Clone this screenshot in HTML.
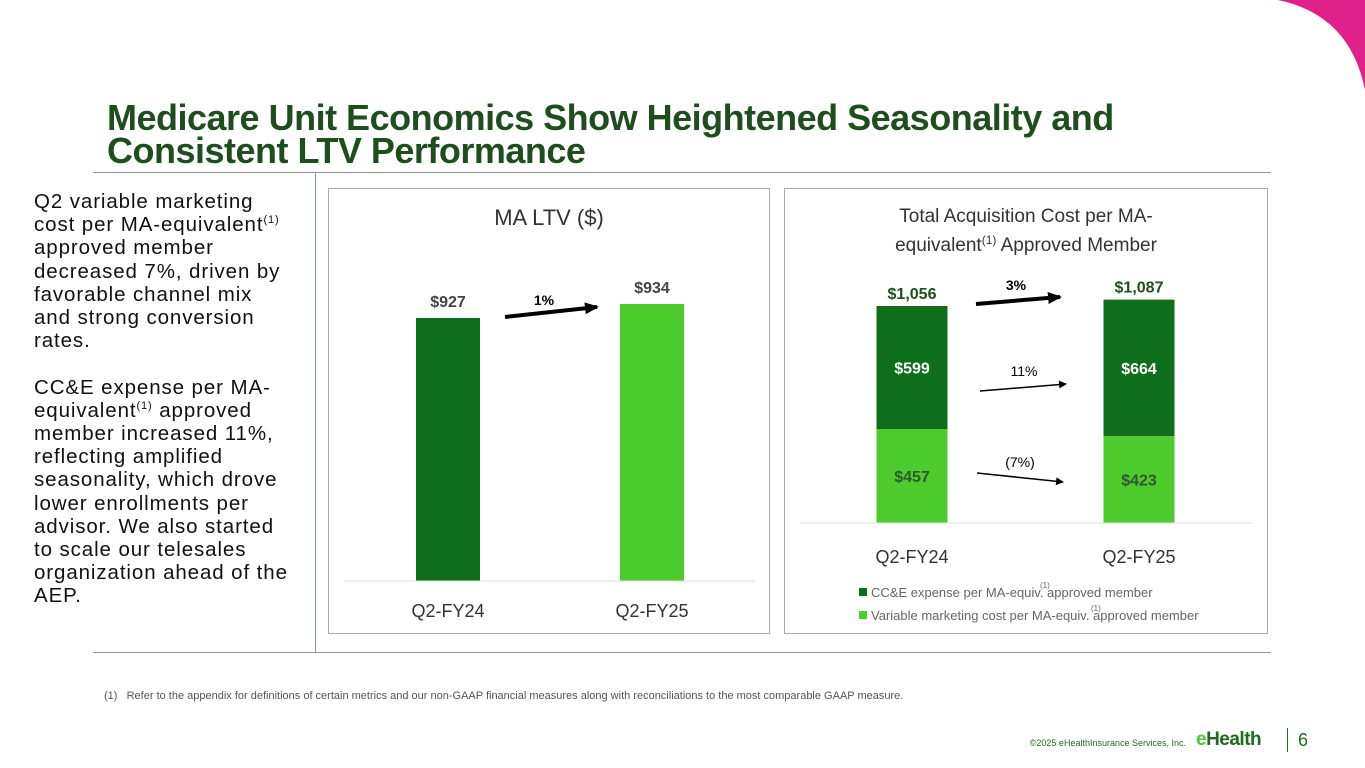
<!DOCTYPE html>
<html><head><meta charset="utf-8"><style>
body{margin:0;width:1365px;height:768px;overflow:hidden;background:#fff;font-family:"Liberation Sans",sans-serif;position:relative}
.abs{position:absolute}
</style></head><body>
<svg class="abs" style="left:0;top:0" width="1365" height="768">
<path d="M1278,0 Q1350,15 1365,90 L1365,0 Z" fill="#e0218a"/>
</svg>
<div class="abs" style="left:107px;top:101px;font-size:36px;font-weight:bold;color:#1e4d1e;line-height:33px;letter-spacing:-0.5px">Medicare Unit Economics Show Heightened Seasonality and<br>Consistent LTV Performance</div>
<div class="abs" style="left:93px;top:172px;width:1178px;height:1px;background:#8a9a8a"></div>
<div class="abs" style="left:93px;top:652px;width:1178px;height:1px;background:#8a9a8a"></div>
<div class="abs" style="left:315px;top:173px;width:1px;height:479px;background:#8a9a8a"></div>
<div class="abs" style="left:34px;top:190px;width:290px;font-size:20.5px;line-height:23.2px;color:#111;letter-spacing:0.9px;white-space:nowrap">Q2 variable marketing<br>cost per MA-equivalent<sup style="font-size:11px;line-height:0">(1)</sup><br>approved member<br>decreased 7%, driven by<br>favorable channel mix<br>and strong conversion<br>rates.<br><br>CC&amp;E expense per MA-<br>equivalent<sup style="font-size:11px;line-height:0">(1)</sup> approved<br>member increased 11%,<br>reflecting amplified<br>seasonality, which drove<br>lower enrollments per<br>advisor. We also started<br>to scale our telesales<br>organization ahead of the<br>AEP.</div>
<div class="abs" style="left:328px;top:188px;width:442px;height:446px;border:1px solid #aaa;box-sizing:border-box"></div>
<div class="abs" style="left:784px;top:188px;width:484px;height:446px;border:1px solid #aaa;box-sizing:border-box"></div>
<svg class="abs" id="ch" style="left:0;top:0" width="1365" height="768">
<defs><marker id="ah" markerWidth="8" markerHeight="8" refX="7" refY="4" orient="auto" markerUnits="userSpaceOnUse"><path d="M0,0 L8,4 L0,8Z" fill="#000"/></marker>
<marker id="ah2" markerWidth="14" markerHeight="12" refX="12" refY="6" orient="auto" markerUnits="userSpaceOnUse"><path d="M0,0 L14,6 L0,12Z" fill="#000"/></marker></defs>
</svg>
<div class="abs" style="left:104px;top:690px;font-size:11px;color:#555">(1)&nbsp;&nbsp;&nbsp;Refer to the appendix for definitions of certain metrics and our non-GAAP financial measures along with reconciliations to the most comparable GAAP measure.</div>
<div class="abs" style="right:179px;top:738px;font-size:9px;color:#1e6b1e;white-space:nowrap">©2025 eHealthInsurance Services, Inc.</div>
<div class="abs" style="left:1196px;top:729px;font-size:19px;font-weight:bold;color:#1e6b1e;letter-spacing:-0.5px"><span style="color:#4cc92e">e</span>Health</div>
<div class="abs" style="left:1287px;top:728px;width:1px;height:24px;background:#1e6b1e"></div>
<div class="abs" style="left:1298px;top:730px;font-size:18px;color:#1e6b1e">6</div>
<script>
const ltvCats=["Q2-FY24","Q2-FY25"];
const ltvVals=[927,934];
const ltvLabels=["$927","$934"];
const cacCats=["Q2-FY24","Q2-FY25"];
const cceVals=[599,664];
const vmcVals=[457,423];
const totLabels=["$1,056","$1,087"];
const NS="http://www.w3.org/2000/svg";
const svg=document.getElementById('ch');
function el(t,a,txt){const e=document.createElementNS(NS,t);for(const k in a)e.setAttribute(k,a[k]);if(txt!==undefined)e.textContent=txt;svg.appendChild(e);return e;}
const DK="#0e6e1c",LT="#4ecb2d";
const lBase=581,lMin=795.5,lK=2;
const lx=c=>[448,652][c];
const ly=v=>lBase-(v-lMin)*lK;
let t=el('text',{x:549,y:225,'font-size':22,'text-anchor':'middle',fill:'#333'},'MA LTV ($)');

ltvVals.forEach((v,i)=>{
 const r=el('rect',{x:lx(i)-32,y:ly(v),width:64,height:lBase-ly(v),fill:i?LT:DK});
 
 
 const l=el('text',{x:lx(i),y:ly(v)-11,'font-size':16,'font-weight':'bold','text-anchor':'middle',fill:'#444'},ltvLabels[i]);
 
 
 const c=el('text',{x:lx(i),y:617,'font-size':18,'text-anchor':'middle',fill:'#333'},ltvCats[i]);
 
 
});
let a=el('line',{x1:344,y1:581,x2:755,y2:581,stroke:'#ddd'});
a=el('line',{x1:505,y1:317,x2:597,y2:307,stroke:'#000','stroke-width':4,'marker-end':'url(#ah2)'});
a=el('text',{x:544,y:305,'font-size':14,'font-weight':'bold','text-anchor':'middle'},'1%');
const rBase=523,rK=0.2055;
const rx=c=>[912,1139][c];
const ry=v=>rBase-v*rK;
t=el('text',{x:1026,y:222,'font-size':19,'text-anchor':'middle',fill:'#333'},'Total Acquisition Cost per MA-');

t=el('text',{x:1026,y:251,'font-size':19,'text-anchor':'middle',fill:'#333'});
t.innerHTML='equivalent<tspan font-size="12" dy="-7">(1)</tspan><tspan dy="7"> Approved Member</tspan>';

cacCats.forEach((cat,i)=>{
 const v=vmcVals[i],c=cceVals[i];
 const r1=el('rect',{x:rx(i)-35.5,y:ry(v),width:71,height:rBase-ry(v),fill:LT});
 
 
 const r2=el('rect',{x:rx(i)-35.5,y:ry(v+c),width:71,height:ry(v)-ry(v+c),fill:DK});
 
 
 const l1=el('text',{x:rx(i),y:(ry(v)+rBase)/2+6,'font-size':16,'font-weight':'bold','text-anchor':'middle',fill:'#2d5a2d'},'$'+v);
 
 
 const l2=el('text',{x:rx(i),y:(ry(v)+ry(v+c))/2+6,'font-size':16,'font-weight':'bold','text-anchor':'middle',fill:'#fff'},'$'+c);
 
 
 const l3=el('text',{x:rx(i),y:ry(v+c)-7,'font-size':16,'font-weight':'bold','text-anchor':'middle',fill:'#1e4d1e'},totLabels[i]);
 
 
 const xl=el('text',{x:rx(i),y:563,'font-size':18,'text-anchor':'middle',fill:'#333'},cat);
 
 
});
a=el('line',{x1:800,y1:523,x2:1252,y2:523,stroke:'#ddd'});
a=el('line',{x1:976,y1:304,x2:1060,y2:297,stroke:'#000','stroke-width':4,'marker-end':'url(#ah2)'});
a=el('text',{x:1016,y:290,'font-size':14,'font-weight':'bold','text-anchor':'middle'},'3%');
a=el('line',{x1:980,y1:391,x2:1066,y2:384,stroke:'#000','stroke-width':1.5,'marker-end':'url(#ah)'});
a=el('text',{x:1024,y:376,'font-size':14,'text-anchor':'middle'},'11%');
a=el('line',{x1:977,y1:473,x2:1063,y2:482,stroke:'#000','stroke-width':1.5,'marker-end':'url(#ah)'});
a=el('text',{x:1020,y:467,'font-size':14,'text-anchor':'middle'},'(7%)');
a=el('rect',{x:859,y:588,width:8,height:8,fill:DK});
a=el('text',{x:871,y:597,'font-size':13,fill:'#666'},'CC&E expense per MA-equiv. approved member');
a=el('text',{x:1040,y:588,'font-size':8,fill:'#666'},'(1)');
a=el('rect',{x:859,y:611,width:8,height:8,fill:LT});
a=el('text',{x:871,y:620,'font-size':13,fill:'#666'},'Variable marketing cost per MA-equiv. approved member');
a=el('text',{x:1091,y:611,'font-size':8,fill:'#666'},'(1)');
</script>
</body></html>
